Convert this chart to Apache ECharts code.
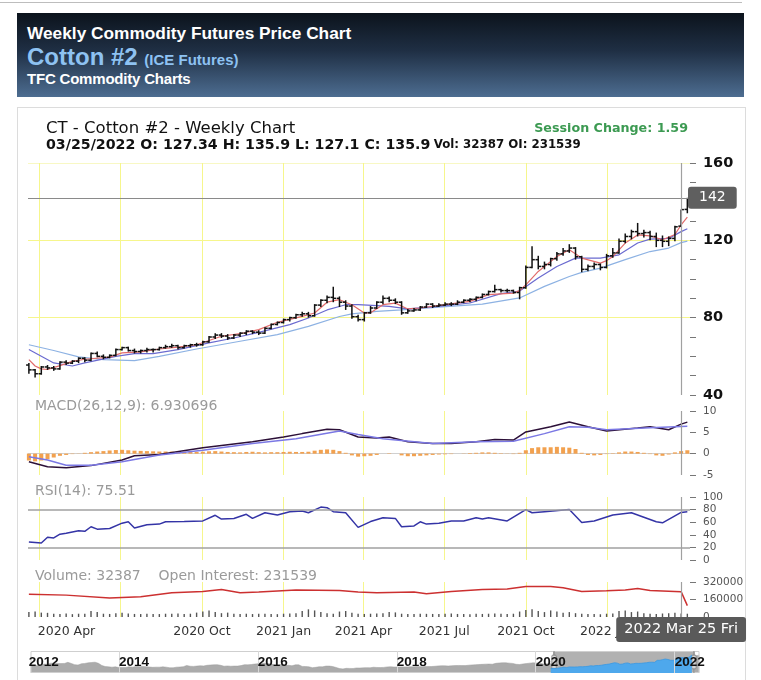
<!DOCTYPE html>
<html><head><meta charset="utf-8">
<script src="https://cdn.jsdelivr.net/npm/echarts@6/dist/echarts.min.js"></script>
<style>
html,body{margin:0;padding:0;background:#fff;width:761px;height:680px;overflow:hidden;font-family:"Liberation Sans",Arial,sans-serif}
#topline{position:absolute;left:0;top:2px;width:742px;height:1px;background:#bdbdbd}
#header{position:absolute;left:17px;top:13px;width:727px;height:84px;background:linear-gradient(180deg,#0c131c 0%,#1f2f44 45%,#4d6d91 100%)}
#h1{position:absolute;left:10px;top:10px;color:#fff;font-weight:bold;font-size:17.3px;white-space:nowrap}
#h2{position:absolute;left:10px;top:30px;color:#8ec2f2;font-weight:bold;font-size:24px;white-space:nowrap}
#h2 span{font-size:15px}
#h3{position:absolute;left:10px;top:57px;color:#fff;font-weight:bold;font-size:15px;letter-spacing:-0.2px;white-space:nowrap}
#box{position:absolute;left:17px;top:107px;width:727px;height:590px;border:1px solid #dcdcdc}
#chart{position:absolute;left:0;top:0;width:761px;height:680px}
</style></head>
<body>
<div id="topline"></div>
<div id="header">
 <div id="h1">Weekly Commodity Futures Price Chart</div>
 <div id="h2">Cotton #2 <span>(ICE Futures)</span></div>
 <div id="h3">TFC Commodity Charts</div>
</div>
<div id="box"></div>
<div id="chart"></div>
<script>
// ---------- data ----------
const dates = ['2020-03-20','2020-03-27','2020-04-03','2020-04-10','2020-04-17','2020-04-24','2020-05-01','2020-05-08','2020-05-15','2020-05-22','2020-05-29','2020-06-05','2020-06-12','2020-06-19','2020-06-26','2020-07-03','2020-07-10','2020-07-17','2020-07-24','2020-07-31','2020-08-07','2020-08-14','2020-08-21','2020-08-28','2020-09-04','2020-09-11','2020-09-18','2020-09-25','2020-10-02','2020-10-09','2020-10-16','2020-10-23','2020-10-30','2020-11-06','2020-11-13','2020-11-20','2020-11-27','2020-12-04','2020-12-11','2020-12-18','2020-12-25','2021-01-01','2021-01-08','2021-01-15','2021-01-22','2021-01-29','2021-02-05','2021-02-12','2021-02-19','2021-02-26','2021-03-05','2021-03-12','2021-03-19','2021-03-26','2021-04-02','2021-04-09','2021-04-16','2021-04-23','2021-04-30','2021-05-07','2021-05-14','2021-05-21','2021-05-28','2021-06-04','2021-06-11','2021-06-18','2021-06-25','2021-07-02','2021-07-09','2021-07-16','2021-07-23','2021-07-30','2021-08-06','2021-08-13','2021-08-20','2021-08-27','2021-09-03','2021-09-10','2021-09-17','2021-09-24','2021-10-01','2021-10-08','2021-10-15','2021-10-22','2021-10-29','2021-11-05','2021-11-12','2021-11-19','2021-11-26','2021-12-03','2021-12-10','2021-12-17','2021-12-24','2021-12-31','2022-01-07','2022-01-14','2022-01-21','2022-01-28','2022-02-04','2022-02-11','2022-02-18','2022-02-25','2022-03-04','2022-03-11','2022-03-18','2022-03-25','2022-04-01'];

const open  = [55.5,53,51,54.5,54,53.5,57,56.5,57.5,59,58,61.5,60,59.5,60.5,63.5,64.5,63,62.5,63,63.5,63.5,64.5,65,65.5,64.5,65.5,66,66,67.5,70,71,70.5,69.5,71,72,73,72.5,72,74.5,76.5,77.5,79,80,81.5,82,81,86.5,89,90.5,90,88,86,80.5,79,82.5,85,88,90,89,88,82.5,83.5,84,85.5,87,86,86.5,87,87,88,89,89.5,90.5,92,93.5,94.5,94,94,93,95.5,106,110,106.5,107.5,110.5,113,114.5,116,111.5,105,106.5,107.5,106,112,113.5,119.5,122,124.5,123.5,124,122,120,119.5,121,127.34,136];
const high  = [56.5,53.5,55,55.5,55,57.5,58,58,59.5,59.5,62,62.5,61,61,64,65,65,64,63.5,64.5,64,65,66,66.5,66,66,66.5,67,68,70.5,72,72,71.5,71.5,72.5,73.5,73.5,73.5,75,77,78,79.5,80.5,82,83,83,87,89.5,91.5,96,91,89,87,81.5,83,86,88.5,91.5,91,90,88.5,84.5,85,86,87.5,87.5,87.5,88,88,89,89.5,90,91,92.5,94,97,95,95,94.5,96,107,117,112,109,111,114,116,118,116.5,112,107.5,108.5,108,113,116,121,123.5,125.5,129,125.5,125,124,122.5,122,127.5,135.9,142];
const low   = [51,49,50.5,53,52.5,53,55.5,56,56.5,57,57.5,59.5,58.5,59,60,63,62.5,61.5,61.5,62,62,63,64,64.5,63.5,64,64.5,65,65.5,67,69,69.5,68.5,69,70,71,71.5,71,71.5,74,76,77,78,79.5,80.5,80,80.5,85.5,87.5,88,85.5,84,79.5,78,78,82,84.5,87,88,87,81.5,82,83,83.5,85,85,85.5,86,86,86.5,87.5,88,88.5,90,91.5,93,93,93,92.5,89.5,95,105.5,105,105,106.5,109.5,112,113.5,110,103.5,104,105,104.5,105.5,111,113,118.5,120.5,122,121.5,120,116.5,116.5,117,119.5,127.1,134];
const close = [53,51,54.5,54,53.5,57,56.5,57.5,59,58,61.5,60,59.5,60.5,63.5,64.5,63,62.5,63,63.5,63.5,64.5,65,65.5,64.5,65.5,66,66,67.5,70,71,70.5,69.5,71,72,73,72.5,72,74.5,76.5,77.5,79,80,81.5,82,81,86.5,89,90.5,90,88,86,80.5,79,82.5,85,88,90,89,88,82.5,83.5,84,85.5,87,86,86.5,87,87,88,89,89.5,90.5,92,93.5,94.5,94,94,93,95.5,106,110,106.5,107.5,110.5,113,114.5,116,111.5,105,106.5,107.5,106,112,113.5,119.5,122,124.5,123.5,124,122,120,119.5,121,127,135.9,139.5];

// moving averages read at sample weeks: [week index, value]
const maFast = [[0,58.3],[1,55],[2,53.5],[3,53.2],[5,55.2],[7,57.4],[9,58.5],[13,59.6],[15,61.8],[18,62.3],[21,63.8],[24,64.8],[27,66],[31,70.4],[34,71.7],[37,73.8],[40,77.6],[44,80.7],[46,82.4],[48,88],[50,89.3],[52,86.7],[54,82.4],[55,82.6],[57,86.7],[59,87.5],[61,84.5],[63,85],[67,86.7],[71,88.4],[74,91.9],[78,92.7],[79,94],[80,97],[82,103.9],[85,111.6],[87,115.1],[89,110.8],[92,108.2],[93,109.5],[94,111.6],[96,118.6],[98,122.8],[100,122.3],[102,120.3],[104,123],[105,128],[106,132]];
const maMid = [[0,63.5],[4,56.6],[7,55],[9,56.6],[14,60],[17,61.4],[20,61.4],[24,63.5],[29,67],[33,69.5],[37,72.4],[42,76.4],[45,79.8],[48,84],[51,86.7],[53,86.7],[56,86.2],[58,85.8],[61,84.5],[66,85.8],[71,87.6],[76,92.4],[79,93.8],[82,100.5],[85,106.5],[88,110.8],[92,110.8],[95,112.5],[98,118.6],[100,120.6],[103,121],[105,124.5],[106,126]];
const maSlow = [[0,66],[4,63],[8,59.7],[12,58.3],[17,57.8],[21,60],[27,63.8],[34,67.8],[40,71.2],[45,75.5],[50,80.6],[52,82],[56,83.3],[60,84],[66,85.5],[73,87],[79,90.2],[83,96.2],[87,101.3],[89,103.4],[92,105.6],[96,110],[100,114.2],[103,116],[105,118.8],[106,119.6]];

const macdLine = [[0,-1.9],[3,-3.06],[6,-3.3],[10,-2.8],[15,-1.5],[17,-0.5],[21,-0.2],[28,1.4],[32,2.1],[36,2.8],[41,3.9],[44,4.7],[48,5.7],[50,5.6],[53,3.9],[56,3.7],[58,3.9],[61,2.8],[65,2.4],[68,2.4],[72,2.8],[75,3.3],[78,3.2],[80,5.1],[84,6.3],[87,7.4],[90,6.3],[93,5.3],[98,6.0],[100,6.3],[103,5.6],[105,6.93],[106,7.4]];
const macdSignal = [[0,-0.7],[3,-1.5],[6,-2.7],[10,-2.7],[15,-1.9],[21,-0.3],[28,0.8],[36,2.4],[43,3.5],[50,5.3],[53,4.5],[57,3.5],[65,2.4],[72,2.8],[78,2.9],[83,4.7],[87,6.3],[90,6.2],[93,5.6],[100,6.1],[106,6.4]];
const macdHist = [-1.6,-1.8,-1.6,-1.3,-0.9,-0.5,-0.3,-0.1,0.05,0.2,0.35,0.5,0.6,0.75,0.85,0.9,0.8,0.7,0.65,0.6,0.55,0.5,0.5,0.5,0.45,0.5,0.45,0.4,0.45,0.55,0.6,0.5,0.4,0.35,0.3,0.4,0.45,0.35,0.3,0.35,0.35,0.4,0.45,0.4,0.4,0.45,0.7,0.9,1.0,0.9,0.6,0.2,-0.4,-0.7,-0.6,-0.5,-0.3,0.0,0.1,0.0,-0.4,-0.6,-0.6,-0.5,-0.4,-0.3,-0.2,-0.15,-0.1,0.0,0.05,0.15,0.2,0.3,0.3,0.2,0.1,0.05,-0.1,0.2,0.8,1.3,1.5,1.5,1.5,1.6,1.5,1.4,1.1,0.2,-0.3,-0.4,-0.3,-0.1,0.1,0.3,0.5,0.5,0.4,0.2,-0.1,-0.4,-0.5,-0.2,0.3,0.6,0.8];

const rsi = [[0,28.5],[2,27],[3,36],[4,35],[5,41],[6,42.5],[8,46.6],[9,45.6],[10,52.8],[11,49],[13,50],[15,58.5],[16,60.6],[17,50.8],[19,56],[21,57],[22,60.6],[25,61],[28,62],[30,71],[31,65],[33,66],[35,72.5],[36,66],[38,75],[40,71.5],[42,76.7],[44,77.7],[45,75],[47,84],[48,83],[49,76.7],[51,75],[53,51.8],[55,61],[57,67],[59,66],[60,52.8],[62,54],[63,60.6],[64,57],[66,58.5],[68,62],[70,62],[72,67],[73,65],[74,67],[77,62],[80,80],[81,75],[83,76.7],[87,80],[89,59.6],[91,62],[94,71.5],[97,75],[101,60.6],[102,59],[104,70],[105,75.51],[106,76.5]];
const rsiLevels = [80, 20];

const volume = [45000,50000,40000,38000,30000,28000,32000,26000,30000,29000,55000,45000,30000,28000,35000,40000,32000,28000,27000,30000,28000,27000,30000,29000,32000,28000,30000,40000,50000,60000,45000,35000,40000,30000,28000,30000,27000,30000,29000,28000,26000,30000,32000,35000,55000,70000,60000,45000,35000,30000,50000,55000,38000,30000,28000,30000,32000,35000,45000,42000,30000,28000,27000,30000,29000,28000,27000,30000,32000,28000,27000,26000,30000,28000,30000,32000,29000,27000,30000,50000,65000,70000,55000,45000,60000,50000,40000,45000,35000,30000,28000,27000,25000,30000,33000,55000,60000,45000,50000,35000,30000,28000,32000,35000,40000,32387,30000];
const openInterest = [[0,208000],[6,200000],[13,174000],[18,185000],[23,221000],[28,234000],[31,252000],[34,221000],[37,229000],[43,247000],[50,242000],[53,229000],[56,221000],[62,229000],[64,213000],[68,234000],[73,252000],[77,255000],[80,278000],[84,278000],[86,268000],[89,234000],[93,239000],[96,247000],[98,260000],[100,242000],[104,234000],[105,231539],[106,104000]];

// long history for the navigator (monthly)
const histDates = ['2012-09-15','2012-10-15','2012-11-15','2012-12-15','2013-01-15','2013-02-15','2013-03-15','2013-04-15','2013-05-15','2013-06-15','2013-07-15','2013-08-15','2013-09-15','2013-10-15','2013-11-15','2013-12-15','2014-01-15','2014-02-15','2014-03-15','2014-04-15','2014-05-15','2014-06-15','2014-07-15','2014-08-15','2014-09-15','2014-10-15','2014-11-15','2014-12-15','2015-01-15','2015-02-15','2015-03-15','2015-04-15','2015-05-15','2015-06-15','2015-07-15','2015-08-15','2015-09-15','2015-10-15','2015-11-15','2015-12-15','2016-01-15','2016-02-15','2016-03-15','2016-04-15','2016-05-15','2016-06-15','2016-07-15','2016-08-15','2016-09-15','2016-10-15','2016-11-15','2016-12-15','2017-01-15','2017-02-15','2017-03-15','2017-04-15','2017-05-15','2017-06-15','2017-07-15','2017-08-15','2017-09-15','2017-10-15','2017-11-15','2017-12-15','2018-01-15','2018-02-15','2018-03-15','2018-04-15','2018-05-15','2018-06-15','2018-07-15','2018-08-15','2018-09-15','2018-10-15','2018-11-15','2018-12-15','2019-01-15','2019-02-15','2019-03-15','2019-04-15','2019-05-15','2019-06-15','2019-07-15','2019-08-15','2019-09-15','2019-10-15','2019-11-15','2019-12-15','2020-01-15','2020-02-15','2020-03-10'];
const histClose = [72,71,72,75,82,80,88,86,86,85,86,93,86,78,76,84,86,90,92,94,87,73,66,64,62,64,60,60,60,64,62,67,65,67,65,63,61,62,62,64,62,58,58,62,63,65,73,68,67,69,71,70,74,76,77,78,74,68,70,68,69,69,72,78,77,79,82,84,88,87,85,82,78,78,79,72,74,71,77,77,67,66,64,59,61,65,64,69,69,66,60];

const quarterTicks = ['2020-04-01','2020-07-01','2020-10-01','2021-01-01','2021-04-01','2021-07-01','2021-10-01','2022-01-01'];
const quarterLabels = ['2020-04-01','2020-10-01','2021-01-01','2021-04-01','2021-07-01','2021-10-01','2022-01-01'];
const navYearTicks = ['2014-01-01','2016-01-01','2018-01-01','2020-01-01','2022-01-01'];
const navYearLabels = ['2012-09-14','2014-01-01','2016-01-01','2018-01-01','2020-01-01','2022-01-01'];

// ---------- helpers ----------
function ts(s){const p=s.split('-');return new Date(+p[0],+p[1]-1,+p[2]).getTime();}
const MON=['Jan','Feb','Mar','Apr','May','Jun','Jul','Aug','Sep','Oct','Nov','Dec'];
const DAY=['Sun','Mon','Tue','Wed','Thu','Fri','Sat'];
const pts = arr => arr.map(p => [ts(dates[p[0]]), p[1]]);

const X_MIN = ts('2020-03-19'), X_MAX = ts('2022-04-04');
const NAV_MIN = ts('2012-09-10'), NAV_MAX = ts('2022-04-28');
const CROSS_X = ts('2022-03-25');
const L = 28, R = 71;
const FONT = 'DejaVu Sans';
const YELLOW = '#f6f68c';

const grids = [
  {left:L, right:R, top:163, height:232},
  {left:L, right:R, top:411, height:64},
  {left:L, right:R, top:497, height:63},
  {left:L, right:R, top:582, height:35},
  {left:L, right:64, top:651, height:22},
  {left:L, right:64, top:651, height:22}
].map(g => Object.assign({outerBoundsMode:'none', containLabel:false}, g));

function timeAxis(idx, opts){
  return Object.assign({
    type:'value', gridIndex:idx, min:X_MIN, max:X_MAX, scale:true,
    axisLine:{show:false}, axisTick:{show:false, customValues:quarterTicks.map(ts)},
    axisLabel:{show:false},
    splitLine:{show:true, lineStyle:{color:YELLOW, width:1}},
    axisPointer:{show:true, type:'line', value:CROSS_X, status:'show', triggerTooltip:false,
      lineStyle:{color:'#a0a0a0', width:1.2, type:'solid'}, label:{show:false}}
  }, opts||{});
}

const yLabelBase = {color:'#555', fontFamily:FONT, fontSize:10.5, margin:13, formatter:function(v){return String(v);}};
const yTick = {show:true, length:6, lineStyle:{color:'#777'}};

const option = {
  animation:false,
  backgroundColor:'transparent',
  grid: grids,
  xAxis:[
    timeAxis(0),
    timeAxis(1, {axisLine:{show:true, onZero:true, lineStyle:{color:'#d0d0d0', width:1}}}),
    timeAxis(2),
    timeAxis(3, {
      axisLabel:{show:true, customValues:quarterLabels.map(ts), color:'#333', fontFamily:FONT, fontSize:12.5, margin:8,
        formatter:function(v){const d=new Date(v);const s=d.getFullYear()+' '+MON[d.getMonth()];
          return (d.getFullYear()===2020 && d.getMonth()===3) ? '{f|'+s+'}' : s;},
        rich:{f:{color:'#333', fontFamily:FONT, fontSize:12.5, padding:[0,0,0,54]}}},
      axisPointer:{show:true, type:'line', value:CROSS_X, status:'show', triggerTooltip:false,
        lineStyle:{color:'#a0a0a0', width:1.2, type:'solid'},
        label:{show:true, backgroundColor:'#5a5a5a', color:'#fff', fontFamily:FONT, fontSize:14.5, padding:[5,8,5,8], borderRadius:3, margin:0,
          formatter:function(p){const d=new Date(p.value);return d.getFullYear()+' '+MON[d.getMonth()]+' '+d.getDate()+' '+DAY[d.getDay()];}}}
    }),
    {type:'value', gridIndex:4, min:NAV_MIN, max:NAV_MAX, scale:true, show:false},
    {type:'value', gridIndex:5, min:NAV_MIN, max:NAV_MAX, scale:true, z:10,
      axisLine:{show:false}, axisTick:{show:false, customValues:navYearTicks.map(ts)},
      splitLine:{show:true, lineStyle:{color:'#d8d8d8', width:1}},
      axisLabel:{show:true, inside:true, customValues:navYearLabels.map(ts), align:'left', margin:4,
        color:'#111', fontWeight:'bold', fontFamily:'Liberation Sans', fontSize:13.5,
        formatter:function(v){const d=new Date(v);return String(d.getFullYear()+(d.getMonth()>8?1:0));}}}
  ],
  yAxis:[
    {type:'value', gridIndex:0, position:'right', min:40, max:160, interval:40,
      axisLine:{show:false}, axisTick:yTick,
      minorTick:{show:true, splitNumber:4, length:6, lineStyle:{color:'#777'}},
      axisLabel:{color:'#111', fontFamily:FONT, fontWeight:'bold', fontSize:14.5, margin:13},
      splitLine:{show:true, lineStyle:{color:['rgba(0,0,0,0)',YELLOW,YELLOW,'#f8f8c4']}},
      axisPointer:{show:true, type:'line', value:142, status:'show', triggerTooltip:false,
        lineStyle:{color:'#8a8a8a', width:1.2, type:'solid'},
        label:{show:true, backgroundColor:'#5f5f5f', color:'#fff', fontFamily:FONT, fontSize:14, padding:[4,11,4,11], borderRadius:3, margin:-2,
          formatter:function(p){return String(Math.round(p.value));}}}},
    {type:'value', gridIndex:1, position:'right', min:-5, max:10, interval:5,
      axisLine:{show:false}, axisTick:yTick, axisLabel:yLabelBase, splitLine:{show:false}},
    {type:'value', gridIndex:2, position:'right', min:0, max:100, interval:20,
      axisLine:{show:false}, axisTick:yTick, axisLabel:yLabelBase, splitLine:{show:false}},
    {type:'value', gridIndex:3, position:'right', min:0, max:320000, interval:160000,
      axisLine:{show:false}, axisTick:yTick, axisLabel:yLabelBase, splitLine:{show:false}},
    {type:'value', gridIndex:4, show:false},
    {type:'value', gridIndex:5, show:false, min:24.5, max:166}
  ],
  dataZoom:[{
    type:'slider', xAxisIndex:4, filterMode:'none', left:L, right:64, top:651, height:22,
    startValue:X_MIN, endValue:X_MAX, showDetail:false, brushSelect:false, zoomLock:true,
    moveHandleSize:0, showDataShadow:true,
    backgroundColor:'#fff', borderColor:'#cfcfcf', borderRadius:0,
    fillerColor:'rgba(125,125,125,0.6)',
    dataBackground:{lineStyle:{color:'#9c9c9c', width:0.5}, areaStyle:{color:'#ababab', opacity:1}},
    selectedDataBackground:{lineStyle:{opacity:0}, areaStyle:{opacity:0}},
    handleSize:'100%', handleStyle:{color:'#d6d6d6', borderColor:'#8a8a8a', borderWidth:1}
  }],
  graphic:[
    {type:'text', left:46, top:120, style:{text:'CT - Cotton #2 - Weekly Chart', fill:'#111', font:'16.5px "DejaVu Sans"'}},
    {type:'text', right:73, top:122, style:{text:'Session Change: 1.59', fill:'#3c9a52', font:'bold 12.7px "DejaVu Sans"'}},
    {type:'text', left:46, top:138, style:{rich:{b:{fill:'#111', font:'bold 14.2px "DejaVu Sans"'}, s:{fill:'#111', font:'bold 11.8px "DejaVu Sans"'}},
      text:'{b|03/25/2022 O: 127.34 H: 135.9 L: 127.1 C: 135.9} {s|Vol: 32387 OI: 231539}'}},
    {type:'text', left:35, top:399, style:{text:'MACD(26,12,9): 6.930696', fill:'#9a9a9a', font:'14px "DejaVu Sans"'}},
    {type:'text', left:35, top:484, style:{text:'RSI(14): 75.51', fill:'#9a9a9a', font:'14px "DejaVu Sans"'}},
    {type:'text', left:35, top:569, style:{text:'Volume: 32387    Open Interest: 231539', fill:'#9a9a9a', font:'14px "DejaVu Sans"'}}
  ],
  series:[
    {type:'line', name:'MA slow', xAxisIndex:0, yAxisIndex:0, data:pts(maSlow), symbol:'none', lineStyle:{color:'#8db2e3', width:1.2}, z:2},
    {type:'line', name:'MA mid', xAxisIndex:0, yAxisIndex:0, data:pts(maMid), symbol:'none', lineStyle:{color:'#6b6bd0', width:1.2}, z:2},
    {type:'line', name:'MA fast', xAxisIndex:0, yAxisIndex:0, data:pts(maFast), symbol:'none', lineStyle:{color:'#e26b6b', width:1.2}, z:2},
    {type:'custom', name:'OHLC', xAxisIndex:0, yAxisIndex:0, z:5,
      data: dates.map((d,i)=>[ts(d), open[i], high[i], low[i], close[i]]),
      encode:{x:0, y:[1,2,3,4]},
      renderItem:function(params, api){
        const x=api.value(0);
        const pO=api.coord([x,api.value(1)]), pH=api.coord([x,api.value(2)]);
        const pL=api.coord([x,api.value(3)]), pC=api.coord([x,api.value(4)]);
        const st={stroke:'#111', lineWidth:1.5};
        return {type:'group', children:[
          {type:'line', shape:{x1:pH[0],y1:pH[1],x2:pL[0],y2:pL[1]}, style:st},
          {type:'line', shape:{x1:pO[0]-2.8,y1:pO[1],x2:pO[0],y2:pO[1]}, style:st},
          {type:'line', shape:{x1:pC[0],y1:pC[1],x2:pC[0]+2.8,y2:pC[1]}, style:st}
        ]};
      }},
    {type:'bar', name:'Hist', xAxisIndex:1, yAxisIndex:1, data:dates.map((d,i)=>[ts(d), macdHist[i]]), barWidth:4, itemStyle:{color:'#f2a14f'}},
    {type:'line', name:'MACD', xAxisIndex:1, yAxisIndex:1, data:pts(macdLine), symbol:'none', lineStyle:{color:'#2c1038', width:1.5}},
    {type:'line', name:'Signal', xAxisIndex:1, yAxisIndex:1, data:pts(macdSignal), symbol:'none', lineStyle:{color:'#7b78e4', width:1.5}},
    {type:'line', name:'RSI', xAxisIndex:2, yAxisIndex:2, data:pts(rsi), symbol:'none', lineStyle:{color:'#3434a6', width:1.5},
      markLine:{silent:true, symbol:'none', label:{show:false}, lineStyle:{color:'#a0a0a0', width:1.5, type:'solid'},
        data:rsiLevels.map(v=>({yAxis:v}))}},
    {type:'bar', name:'Volume', xAxisIndex:3, yAxisIndex:3, data:dates.map((d,i)=>[ts(d), volume[i]]), barWidth:1.4, itemStyle:{color:'#555'}},
    {type:'line', name:'OI', xAxisIndex:3, yAxisIndex:3, data:pts(openInterest), symbol:'none', lineStyle:{color:'#cc3030', width:1.5}},
    {type:'line', name:'Navigator', xAxisIndex:4, yAxisIndex:4, symbol:'none', lineStyle:{opacity:0}, silent:true,
      data: histDates.map((d,i)=>[ts(d), histClose[i]]).concat(dates.map((d,i)=>[ts(d), close[i]]))},
    {type:'line', name:'Navigator selected', xAxisIndex:5, yAxisIndex:5, symbol:'none', silent:true, z:6,
      lineStyle:{color:'#3a98e2', width:0.8}, areaStyle:{color:'#4ea8ec', opacity:1},
      data: dates.map((d,i)=>[ts(d), close[i]])}
  ]
};
const chart = echarts.init(document.getElementById('chart'), null, {renderer:'canvas'});
chart.setOption(option);
</script>
</body></html>
